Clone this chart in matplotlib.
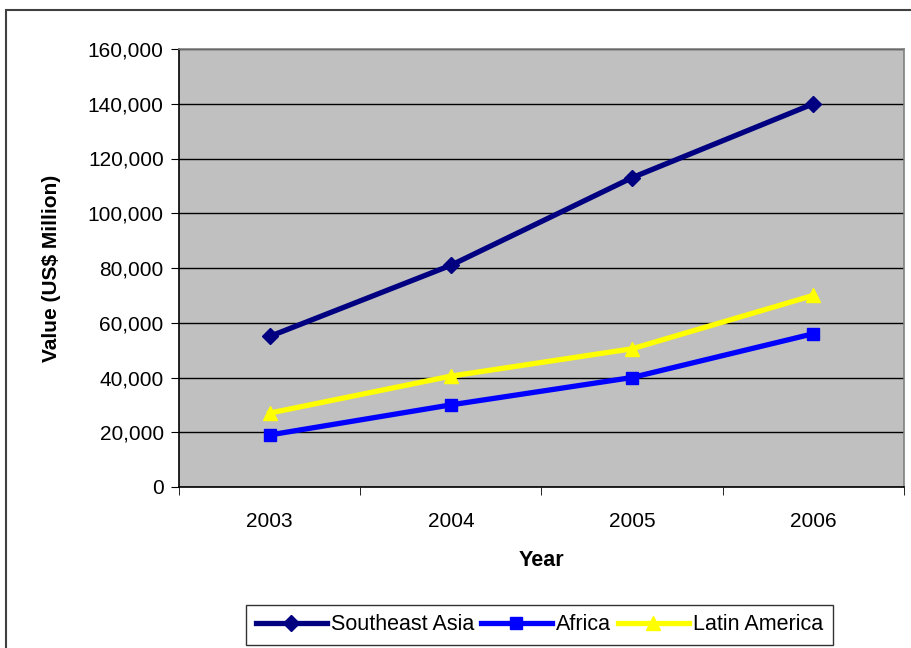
import matplotlib
matplotlib.use("Agg")
import matplotlib.pyplot as plt
from matplotlib.patches import Rectangle

years = ["2003", "2004", "2005", "2006"]
southeast_asia = [55000, 81000, 113000, 140000]
africa = [19000, 30000, 40000, 56000]
latin_america = [27000, 40500, 50500, 70000]
yticks = [0, 20000, 40000, 60000, 80000, 100000, 120000, 140000, 160000]

plt.rcParams['font.family'] = ['Liberation Sans', 'DejaVu Sans']

fig = plt.figure(figsize=(9.12, 6.48), dpi=100)
ax = fig.add_axes([179/912, 1-487/648, 725/912, 438/648])
ax.set_facecolor('#C0C0C0')

x = list(range(len(years)))
ax.plot(x, southeast_asia, color='#000080', lw=3.8, marker='D', ms=8, label='Southeast Asia', zorder=3)
ax.plot(x, africa, color='#0000FF', lw=3.8, marker='s', ms=8, label='Africa', zorder=3)
ax.plot(x, latin_america, color='#FFFF00', lw=3.8, marker='^', ms=10, label='Latin America', zorder=3)

ax.set_xlim(-0.5, len(years) - 0.5)
ax.set_ylim(0, 160000)
ax.set_yticks(yticks)
ax.set_yticklabels([f"{v:,}" for v in yticks], fontsize=15)
ax.yaxis.grid(True, color='black', lw=1)
ax.set_axisbelow(True)

ax.set_xticks(x)
ax.set_xticklabels(years, fontsize=15)
ax.tick_params(axis='x', which='major', length=0, pad=18)
ax.set_xticks([i - 0.5 for i in range(len(years) + 1)], minor=True)
ax.tick_params(axis='x', which='minor', length=6, direction='out', color='black')
ax.tick_params(axis='y', length=6, direction='out', color='black', pad=5)

for s in ['left', 'bottom']:
    ax.spines[s].set_color('black')
    ax.spines[s].set_linewidth(1.2)
for s in ['top', 'right']:
    ax.spines[s].set_color('#808080')
    ax.spines[s].set_linewidth(1.2)

ax.set_xlabel('Year', fontsize=15.5, fontweight='bold', labelpad=13.5)
ax.set_ylabel('Value (US$ Million)', fontsize=15, fontweight='bold', labelpad=19)

leg = fig.legend(loc='center', bbox_to_anchor=(539.5/912, 1-625/648), ncol=3, fontsize=15.5,
                 frameon=True, fancybox=False, edgecolor='black', handlelength=3.3,
                 columnspacing=0.3, handletextpad=0.2, borderpad=0.45, borderaxespad=0)
leg.get_frame().set_linewidth(1)

fig.patches.append(Rectangle((6/912, -0.1), 1.2, 1-10/648+0.1, transform=fig.transFigure,
                             fill=False, edgecolor='#404040', lw=1.5))

fig.savefig('out.png', dpi=100)
